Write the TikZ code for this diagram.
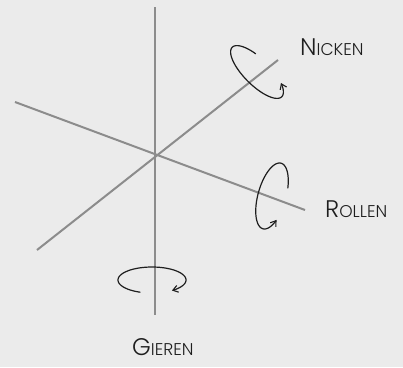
\documentclass[tikz,border=0pt]{standalone}
\usepackage{fontspec}
\setmainfont{Poppins}[UprightFont=* Light]
\usetikzlibrary{arrows.meta}
\definecolor{bg}{HTML}{EBEBEB}
\definecolor{axis}{HTML}{8C8C8C}
\definecolor{ink}{HTML}{1E1E1E}
\begin{document}
\begin{tikzpicture}[x=1pt,y=-1pt,
  axisline/.style={draw=axis,line width=2pt},
  rot/.style={draw=ink,line width=1.2pt,-{Straight Barb[length=5pt,width=7pt,line width=1.1pt]},smooth,samples=80},
  lbl/.style={anchor=base west,inner sep=0pt,font=\fontsize{24}{26}\selectfont,text=ink}]
\fill[bg] (0,0) rectangle (403,367);
\useasboundingbox (0,0) rectangle (403,367);
% axes
\coordinate (ytop) at (155,7);
\coordinate (ybot) at (155,315);
\coordinate (rl) at (15,102);
\coordinate (rr) at (305,210);
\coordinate (nl) at (37,250);
\coordinate (nr) at (278,60);
\draw[axisline] (ytop) -- (ybot);
\draw[axisline] (rl) -- (rr);
\draw[axisline] (nl) -- (nr);
% rotation arrows
\draw[rot] plot[domain=247:-45] ({257+24.75*cos(\x)-9.19*sin(\x)},{72+24.75*cos(\x)+9.19*sin(\x)});
\draw[rot] plot[domain=70:-230] ({272+9.08*cos(\x)+13.5*sin(\x)},{196-32.78*cos(\x)+3.74*sin(\x)});
\draw[rot] plot[domain=250:-54] ({152+34*cos(\x)},{280-13*sin(\x)});
% labels
\node[lbl] (nicken) at (300,55) {N{\fontsize{17}{20}\selectfont ICKEN}};
\node[lbl] (rollen) at (325,217) {R{\fontsize{17}{20}\selectfont OLLEN}};
\node[lbl] (gieren) at (132,355) {G{\fontsize{17}{20}\selectfont IEREN}};
\end{tikzpicture}
\end{document}
